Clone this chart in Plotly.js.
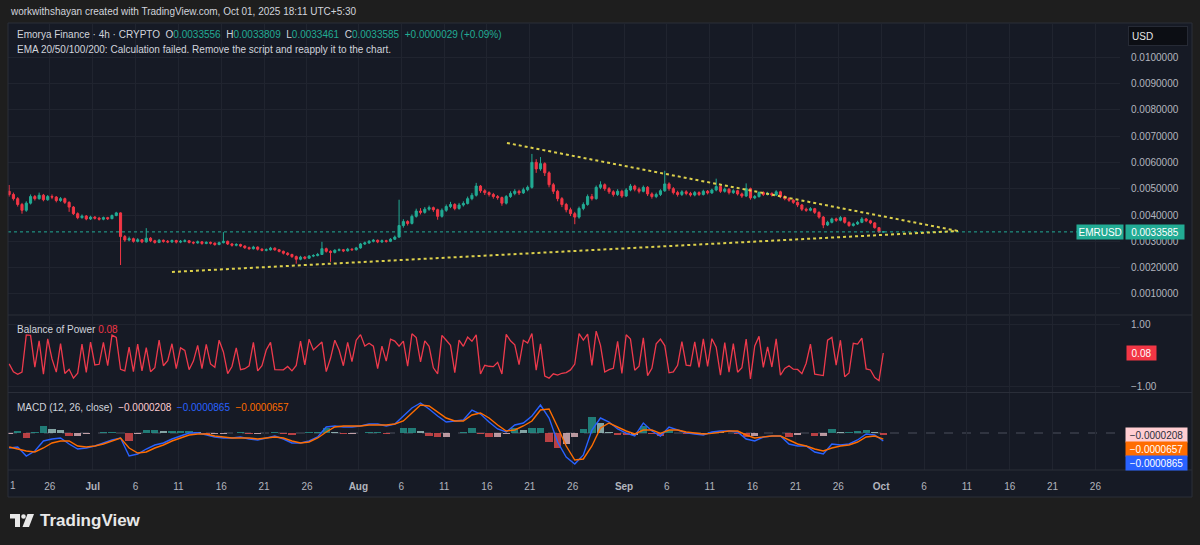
<!DOCTYPE html>
<html>
<head>
<meta charset="utf-8">
<script src="https://cdn.plot.ly/plotly-3.0.1.min.js"></script>
<style>
  html, body { margin: 0; padding: 0; background: #1e1e1e; }
  #chart { width: 1200px; height: 545px; }
</style>
</head>
<body>
<div id="chart"></div>
<script>
// EMRUSD, 12h candles from 21 Jun 2025 06:00 to 1 Oct 2025 06:00 (prices in USD)
const opens = [
  0.00490, 0.00478, 0.00462, 0.00440, 0.00418, 0.00445, 0.00470, 0.00462, 0.00475, 0.00458,
  0.00470, 0.00468, 0.00455, 0.00462, 0.00448, 0.00430, 0.00405, 0.00390, 0.00396, 0.00385,
  0.00392, 0.00388, 0.00384, 0.00390, 0.00386, 0.00398, 0.00408, 0.00318, 0.00305, 0.00310,
  0.00300, 0.00306, 0.00298, 0.00312, 0.00302, 0.00296, 0.00304, 0.00300, 0.00298, 0.00303,
  0.00297, 0.00300, 0.00302, 0.00296, 0.00294, 0.00298, 0.00292, 0.00296, 0.00293, 0.00288,
  0.00295, 0.00300, 0.00290, 0.00285, 0.00288, 0.00282, 0.00276, 0.00272, 0.00278, 0.00270,
  0.00266, 0.00268, 0.00274, 0.00268, 0.00262, 0.00255, 0.00250, 0.00242, 0.00232, 0.00240,
  0.00236, 0.00244, 0.00246, 0.00250, 0.00272, 0.00262, 0.00258, 0.00266, 0.00268, 0.00264,
  0.00270, 0.00268, 0.00275, 0.00290, 0.00294, 0.00300, 0.00304, 0.00298, 0.00302, 0.00300,
  0.00308, 0.00316, 0.00360, 0.00375, 0.00368, 0.00395, 0.00415, 0.00410, 0.00422, 0.00428,
  0.00420, 0.00395, 0.00418, 0.00432, 0.00440, 0.00425, 0.00438, 0.00444, 0.00462, 0.00475,
  0.00510, 0.00492, 0.00485, 0.00478, 0.00470, 0.00466, 0.00445, 0.00470, 0.00482, 0.00490,
  0.00484, 0.00496, 0.00505, 0.00600, 0.00575, 0.00595, 0.00560, 0.00515, 0.00490, 0.00462,
  0.00440, 0.00420, 0.00405, 0.00392, 0.00425, 0.00440, 0.00470, 0.00462, 0.00505, 0.00515,
  0.00500, 0.00488, 0.00478, 0.00490, 0.00472, 0.00495, 0.00510, 0.00498, 0.00490, 0.00505,
  0.00480, 0.00470, 0.00478, 0.00492, 0.00518, 0.00500, 0.00485, 0.00478, 0.00488, 0.00482,
  0.00476, 0.00485, 0.00478, 0.00490, 0.00484, 0.00495, 0.00508, 0.00490, 0.00498, 0.00485,
  0.00492, 0.00480, 0.00472, 0.00500, 0.00465, 0.00470, 0.00485, 0.00478, 0.00482, 0.00476,
  0.00488, 0.00470, 0.00462, 0.00456, 0.00448, 0.00438, 0.00422, 0.00418, 0.00424, 0.00410,
  0.00392, 0.00362, 0.00372, 0.00385, 0.00380, 0.00390, 0.00372, 0.00360, 0.00366, 0.00372,
  0.00385, 0.00378, 0.00370, 0.00352, 0.0033556
];
const highs = [
  0.00514, 0.00485, 0.00468, 0.00446, 0.00452, 0.00478, 0.00476, 0.00485, 0.00480, 0.00476,
  0.00478, 0.00472, 0.00468, 0.00466, 0.00452, 0.00434, 0.00410, 0.00402, 0.00400, 0.00397,
  0.00396, 0.00393, 0.00394, 0.00393, 0.00402, 0.00412, 0.00410, 0.00324, 0.00318, 0.00314,
  0.00312, 0.00309, 0.00350, 0.00316, 0.00306, 0.00309, 0.00307, 0.00305, 0.00307, 0.00306,
  0.00305, 0.00308, 0.00305, 0.00300, 0.00303, 0.00301, 0.00300, 0.00299, 0.00296, 0.00299,
  0.00335, 0.00303, 0.00294, 0.00293, 0.00291, 0.00285, 0.00280, 0.00283, 0.00281, 0.00274,
  0.00273, 0.00279, 0.00277, 0.00271, 0.00265, 0.00259, 0.00253, 0.00246, 0.00245, 0.00244,
  0.00248, 0.00251, 0.00256, 0.00298, 0.00276, 0.00266, 0.00270, 0.00273, 0.00271, 0.00275,
  0.00274, 0.00279, 0.00294, 0.00299, 0.00305, 0.00309, 0.00307, 0.00307, 0.00306, 0.00312,
  0.00322, 0.00458, 0.00384, 0.00380, 0.00402, 0.00424, 0.00426, 0.00430, 0.00436, 0.00432,
  0.00424, 0.00425, 0.00440, 0.00450, 0.00445, 0.00446, 0.00452, 0.00470, 0.00484, 0.00522,
  0.00514, 0.00498, 0.00490, 0.00484, 0.00476, 0.00470, 0.00476, 0.00490, 0.00498, 0.00496,
  0.00504, 0.00512, 0.00632, 0.00612, 0.00620, 0.00600, 0.00566, 0.00522, 0.00496, 0.00468,
  0.00446, 0.00428, 0.00412, 0.00432, 0.00448, 0.00478, 0.00480, 0.00512, 0.00528, 0.00520,
  0.00506, 0.00494, 0.00498, 0.00496, 0.00502, 0.00518, 0.00515, 0.00505, 0.00512, 0.00510,
  0.00486, 0.00485, 0.00498, 0.00568, 0.00524, 0.00506, 0.00492, 0.00494, 0.00494, 0.00488,
  0.00491, 0.00490, 0.00496, 0.00495, 0.00500, 0.00538, 0.00512, 0.00504, 0.00502, 0.00498,
  0.00496, 0.00485, 0.00520, 0.00504, 0.00476, 0.00490, 0.00490, 0.00488, 0.00486, 0.00494,
  0.00492, 0.00475, 0.00468, 0.00460, 0.00452, 0.00442, 0.00428, 0.00430, 0.00427, 0.00414,
  0.00396, 0.00378, 0.00390, 0.00390, 0.00396, 0.00393, 0.00376, 0.00371, 0.00378, 0.00392,
  0.00389, 0.00382, 0.00373, 0.00354, 0.0033809
];
const lows = [
  0.00470, 0.00455, 0.00432, 0.00405, 0.00412, 0.00440, 0.00455, 0.00458, 0.00452, 0.00454,
  0.00460, 0.00448, 0.00450, 0.00442, 0.00412, 0.00400, 0.00384, 0.00386, 0.00380, 0.00381,
  0.00383, 0.00379, 0.00380, 0.00381, 0.00384, 0.00395, 0.00210, 0.00298, 0.00300, 0.00295,
  0.00296, 0.00293, 0.00295, 0.00297, 0.00291, 0.00293, 0.00295, 0.00293, 0.00294, 0.00292,
  0.00293, 0.00296, 0.00292, 0.00289, 0.00291, 0.00287, 0.00289, 0.00288, 0.00283, 0.00285,
  0.00292, 0.00286, 0.00280, 0.00281, 0.00278, 0.00271, 0.00268, 0.00269, 0.00265, 0.00262,
  0.00262, 0.00265, 0.00264, 0.00258, 0.00250, 0.00245, 0.00237, 0.00215, 0.00228, 0.00231,
  0.00233, 0.00240, 0.00243, 0.00248, 0.00257, 0.00222, 0.00254, 0.00262, 0.00259, 0.00261,
  0.00264, 0.00265, 0.00272, 0.00286, 0.00290, 0.00296, 0.00293, 0.00294, 0.00295, 0.00297,
  0.00305, 0.00314, 0.00352, 0.00360, 0.00364, 0.00390, 0.00402, 0.00405, 0.00416, 0.00412,
  0.00382, 0.00390, 0.00412, 0.00426, 0.00418, 0.00420, 0.00432, 0.00440, 0.00456, 0.00470,
  0.00484, 0.00476, 0.00470, 0.00462, 0.00458, 0.00435, 0.00440, 0.00465, 0.00475, 0.00476,
  0.00480, 0.00490, 0.00500, 0.00560, 0.00568, 0.00548, 0.00505, 0.00480, 0.00452, 0.00430,
  0.00410, 0.00396, 0.00365, 0.00386, 0.00418, 0.00435, 0.00455, 0.00458, 0.00498, 0.00492,
  0.00480, 0.00470, 0.00472, 0.00465, 0.00468, 0.00490, 0.00490, 0.00482, 0.00486, 0.00472,
  0.00462, 0.00464, 0.00472, 0.00488, 0.00492, 0.00478, 0.00470, 0.00472, 0.00475, 0.00470,
  0.00471, 0.00472, 0.00474, 0.00478, 0.00480, 0.00490, 0.00484, 0.00485, 0.00478, 0.00480,
  0.00474, 0.00465, 0.00468, 0.00458, 0.00460, 0.00466, 0.00472, 0.00474, 0.00470, 0.00472,
  0.00464, 0.00456, 0.00450, 0.00442, 0.00430, 0.00415, 0.00412, 0.00414, 0.00404, 0.00386,
  0.00350, 0.00358, 0.00368, 0.00374, 0.00376, 0.00367, 0.00355, 0.00356, 0.00362, 0.00369,
  0.00373, 0.00365, 0.00348, 0.00334, 0.0033461
];
const closes = [
  0.00478, 0.00462, 0.00440, 0.00418, 0.00445, 0.00470, 0.00462, 0.00475, 0.00458, 0.00470,
  0.00468, 0.00455, 0.00462, 0.00448, 0.00430, 0.00405, 0.00390, 0.00396, 0.00385, 0.00392,
  0.00388, 0.00384, 0.00390, 0.00386, 0.00398, 0.00408, 0.00318, 0.00305, 0.00310, 0.00300,
  0.00306, 0.00298, 0.00312, 0.00302, 0.00296, 0.00304, 0.00300, 0.00298, 0.00303, 0.00297,
  0.00300, 0.00302, 0.00296, 0.00294, 0.00298, 0.00292, 0.00296, 0.00293, 0.00288, 0.00295,
  0.00300, 0.00290, 0.00285, 0.00288, 0.00282, 0.00276, 0.00272, 0.00278, 0.00270, 0.00266,
  0.00268, 0.00274, 0.00268, 0.00262, 0.00255, 0.00250, 0.00242, 0.00232, 0.00240, 0.00236,
  0.00244, 0.00246, 0.00250, 0.00272, 0.00262, 0.00258, 0.00266, 0.00268, 0.00264, 0.00270,
  0.00268, 0.00275, 0.00290, 0.00294, 0.00300, 0.00304, 0.00298, 0.00302, 0.00300, 0.00308,
  0.00316, 0.00360, 0.00375, 0.00368, 0.00395, 0.00415, 0.00410, 0.00422, 0.00428, 0.00420,
  0.00395, 0.00418, 0.00432, 0.00440, 0.00425, 0.00438, 0.00444, 0.00462, 0.00475, 0.00510,
  0.00492, 0.00485, 0.00478, 0.00470, 0.00466, 0.00445, 0.00470, 0.00482, 0.00490, 0.00484,
  0.00496, 0.00505, 0.00600, 0.00575, 0.00595, 0.00560, 0.00515, 0.00490, 0.00462, 0.00440,
  0.00420, 0.00405, 0.00392, 0.00425, 0.00440, 0.00470, 0.00462, 0.00505, 0.00515, 0.00500,
  0.00488, 0.00478, 0.00490, 0.00472, 0.00495, 0.00510, 0.00498, 0.00490, 0.00505, 0.00480,
  0.00470, 0.00478, 0.00492, 0.00518, 0.00500, 0.00485, 0.00478, 0.00488, 0.00482, 0.00476,
  0.00485, 0.00478, 0.00490, 0.00484, 0.00495, 0.00508, 0.00490, 0.00498, 0.00485, 0.00492,
  0.00480, 0.00472, 0.00500, 0.00465, 0.00470, 0.00485, 0.00478, 0.00482, 0.00476, 0.00488,
  0.00470, 0.00462, 0.00456, 0.00448, 0.00438, 0.00422, 0.00418, 0.00424, 0.00410, 0.00392,
  0.00362, 0.00372, 0.00385, 0.00380, 0.00390, 0.00372, 0.00360, 0.00366, 0.00372, 0.00385,
  0.00378, 0.00370, 0.00352, 0.0033556, 0.0033585
];

// MACD (12, 26, close), one sample per day, in units of 1e-7 USD
const macdLine = [
  -1620, -1512, -2484, -1944, -864, -648, -540, -1188, -1728, -1620,
  -1404, -1080, -756, -540, -2484, -2268, -1728, -1296, -1080, -648,
  -324, 0, 20, -216, -432, -540, -540, -432, -648, -756,
  -540, -324, -648, -1080, -1080, -864, -432, 648, 756, 648,
  648, 756, 972, 972, 756, 972, 1836, 2700, 3240, 2592,
  1836, 1188, 1296, 1404, 2484, 2052, 1188, 432, 108, 864,
  1080, 1836, 3024, 1620, -972, -2592, -3348, -2376, 324, 1620,
  1188, 432, -20, -324, 1080, 216, -324, 648, 324, 30,
  -108, -216, 108, 216, 216, 108, -648, -864, -432, -324,
  -324, -1188, -1404, -1404, -2052, -2268, -1188, -1296, -1188, -756,
  -108, -216, -865
];
const signalLine = [
  -1512, -1728, -1944, -2052, -1620, -1080, -864, -864, -1404, -1512,
  -1404, -1188, -864, -540, -1620, -2160, -2052, -1620, -1296, -864,
  -540, -216, -108, -108, -324, -432, -540, -540, -540, -648,
  -540, -432, -540, -864, -1080, -972, -540, 108, 648, 756,
  756, 756, 864, 864, 864, 972, 1296, 2160, 3024, 2916,
  2268, 1620, 1296, 1296, 1944, 2160, 1620, 864, 216, 324,
  756, 1296, 2484, 2592, 648, -1404, -2916, -2808, -1404, 540,
  1080, 648, 216, -108, 324, 324, -30, 324, 324, 108,
  10, -108, -40, 108, 216, 216, -216, -540, -432, -324,
  -324, -756, -1188, -1404, -1728, -1944, -1620, -1404, -1296, -972,
  -432, -324, -657
];

// Triangle trend lines drawn on the price pane
const trendUpperX = ['2025-08-18 08:10', '2025-10-09 23:17'];
const trendUpperY = [0.006735, 0.003393];
const trendLowerX = ['2025-07-10 06:00', '2025-10-09 23:17'];
const trendLowerY = [0.001836, 0.003393];

// Time axis labels
const tickDates = ['2025-06-26','2025-07-01','2025-07-06','2025-07-11','2025-07-16','2025-07-21','2025-07-26',
  '2025-08-01','2025-08-06','2025-08-11','2025-08-16','2025-08-21','2025-08-26',
  '2025-09-01','2025-09-06','2025-09-11','2025-09-16','2025-09-21','2025-09-26',
  '2025-10-01','2025-10-06','2025-10-11','2025-10-16','2025-10-21','2025-10-26'];
const tickLabels = ['26','<b>Jul</b>','6','11','16','21','26','<b>Aug</b>','6','11','16','21','26',
  '<b>Sep</b>','6','11','16','21','26','<b>Oct</b>','6','11','16','21','26'];
const priceTicks = [0.001, 0.002, 0.003, 0.004, 0.005, 0.006, 0.007, 0.008, 0.009, 0.010];

// ---------------------------------------------------------------------------
const UP = '#22ab94', DOWN = '#f23645';
const BLUE = '#2962ff', ORANGE = '#ff6d00', PINK = '#ffcdd2';
const TEXT = '#d1d4dc', AXIS_TEXT = '#b2b5be';
const PANEL = '#161a25', GRID = '#20242f', BORDER = '#2a2e39';
const FONT = 'Liberation Sans, Arial, sans-serif';

const stamp = ms => new Date(ms).toISOString().slice(0, 16).replace('T', ' ');
const t0 = Date.UTC(2025, 5, 21, 6);
const candleTimes = closes.map((_, i) => stamp(t0 + i * 12 * 3600e3));
const macdTimes = macdLine.map((_, d) => stamp(t0 + d * 24 * 3600e3));

// Balance of Power = (close - open) / (high - low)
const bop = closes.map((c, i) => (c - opens[i]) / (highs[i] - lows[i]));
const hist = macdLine.map((m, i) => m - signalLine[i]);
const histColors = hist.map((h, i) => {
  const prev = i ? hist[i - 1] : h;
  if (h >= 0) return h >= prev ? '#26a69a' : '#b2dfdb';
  return h < prev ? '#ff5252' : '#ffcdd2';
});

const n = closes.length;
const lastO = opens[n - 1], lastH = highs[n - 1], lastL = lows[n - 1], lastC = closes[n - 1];
const chg = lastC - lastO;
const fmt7 = v => (v < 0 ? '\u2212' : '') + Math.abs(v).toFixed(7);
const sgn7 = v => (v < 0 ? '\u2212' : '+') + Math.abs(v).toFixed(7);
const lastBop = bop[n - 1];
const lastHist = hist[hist.length - 1] * 1e-7;
const lastMacd = macdLine[macdLine.length - 1] * 1e-7;
const lastSignal = signalLine[signalLine.length - 1] * 1e-7;

// pixel -> paper helpers (plot area spans x 8..1120, y 24..470)
const px = x => (x - 8) / 1112;
const py = y => (470 - y) / 446;

const xStart = '2025-06-21 02:48', xEnd = '2025-10-28 20:53';

const traces = [
  {
    type: 'candlestick', x: candleTimes, open: opens, high: highs, low: lows, close: closes,
    xaxis: 'x', yaxis: 'y', whiskerwidth: 0,
    increasing: { line: { color: UP, width: 1 }, fillcolor: UP },
    decreasing: { line: { color: DOWN, width: 1 }, fillcolor: DOWN },
    hoverinfo: 'skip'
  },
  {
    type: 'scatter', mode: 'lines', x: [xStart, xEnd], y: [lastC, lastC],
    line: { color: UP, width: 1, dash: 'dot' }, xaxis: 'x', yaxis: 'y', hoverinfo: 'skip'
  },
  {
    type: 'scatter', mode: 'lines', x: trendUpperX, y: trendUpperY,
    line: { color: '#dcd04b', width: 2, dash: 'dot' }, xaxis: 'x', yaxis: 'y', hoverinfo: 'skip'
  },
  {
    type: 'scatter', mode: 'lines', x: trendLowerX, y: trendLowerY,
    line: { color: '#dcd04b', width: 2, dash: 'dot' }, xaxis: 'x', yaxis: 'y', hoverinfo: 'skip'
  },
  {
    type: 'scatter', mode: 'lines', x: candleTimes, y: bop,
    line: { color: '#ee3a4c', width: 1.3 }, xaxis: 'x', yaxis: 'y2', hoverinfo: 'skip'
  },
  {
    type: 'bar', x: macdTimes, y: hist, width: 0.85 * 86400e3,
    marker: { color: histColors, line: { width: 0 } }, opacity: 0.7,
    xaxis: 'x', yaxis: 'y3', hoverinfo: 'skip'
  },
  {
    type: 'scatter', mode: 'lines', x: macdTimes, y: macdLine,
    line: { color: BLUE, width: 1.4 }, xaxis: 'x', yaxis: 'y3', hoverinfo: 'skip'
  },
  {
    type: 'scatter', mode: 'lines', x: macdTimes, y: signalLine,
    line: { color: ORANGE, width: 1.4 }, xaxis: 'x', yaxis: 'y3', hoverinfo: 'skip'
  }
];

const txt = (x, y, text, size, color, extra) => Object.assign({
  xref: 'paper', yref: 'paper', x: px(x), y: py(y), text: text, showarrow: false,
  xanchor: 'left', yanchor: 'middle', font: { family: FONT, size: size, color: color }
}, extra || {});

const g = s => '<span style="color:' + UP + '">' + s + '</span>';
const sp = '\u00a0 ';
const line1 = 'Emorya Finance \u00b7 4h \u00b7 CRYPTO' + sp +
  'O' + g(lastO.toFixed(7)) + sp + 'H' + g(lastH.toFixed(7)) + sp +
  'L' + g(lastL.toFixed(7)) + sp + 'C' + g(lastC.toFixed(7)) + sp +
  g(sgn7(chg) + ' (' + (chg >= 0 ? '+' : '\u2212') + Math.abs(chg / lastO * 100).toFixed(2) + '%)');

const annotations = [
  txt(8, 12, 'workwithshayan created with TradingView.com, Oct 01, 2025 18:11 UTC+5:30', 10, TEXT),
  txt(15, 35, line1, 10, TEXT),
  txt(15, 49, 'EMA 20/50/100/200: Calculation failed. Remove the script and reapply it to the chart.', 10, TEXT),
  txt(15, 329, 'Balance of Power ' + '<span style="color:' + DOWN + '">' + lastBop.toFixed(2) + '</span>', 10, TEXT),
  txt(15, 407, 'MACD (12, 26, close)' + sp +
    '<span style="color:' + PINK + '">' + fmt7(lastHist) + '</span>' + sp +
    '<span style="color:' + BLUE + '">' + fmt7(lastMacd) + '</span>' + sp +
    '<span style="color:' + ORANGE + '">' + fmt7(lastSignal) + '</span>', 10, TEXT),
  // clipped first date label at the left frame edge
  txt(8, 485, '1', 10, AXIS_TEXT),
  // currency badge
  txt(1128, 36, 'USD', 10, '#e6e6e6', { bgcolor: '#0c0e14', bordercolor: '#262a35', borderwidth: 1, borderpad: 3, width: 52, height: 12, align: 'left' }),
  // last price labels
  { xref: 'paper', yref: 'y', x: 1, y: lastC, xanchor: 'left', yanchor: 'middle', xshift: 5,
    text: lastC.toFixed(7), showarrow: false, bgcolor: UP, borderpad: 1.5, width: 55,
    font: { family: FONT, size: 10, color: '#ffffff' } },
  { xref: 'paper', yref: 'y', x: 1, y: lastC, xanchor: 'right', yanchor: 'middle', xshift: 4,
    text: 'EMRUSD', showarrow: false, bgcolor: UP, borderpad: 1.5,
    font: { family: FONT, size: 10, color: '#ffffff' } },
  { xref: 'paper', yref: 'y2', x: 1, y: lastBop, xanchor: 'left', yanchor: 'middle', xshift: 6,
    text: lastBop.toFixed(2), showarrow: false, bgcolor: DOWN, borderpad: 1.5, width: 26,
    font: { family: FONT, size: 10, color: '#ffffff' } },
  // MACD value labels, stacked below the histogram value
  { xref: 'paper', yref: 'y3', x: 1, y: hist[hist.length - 1], xanchor: 'left', yanchor: 'middle', xshift: 5,
    text: fmt7(lastHist), showarrow: false, bgcolor: PINK, borderpad: 1.5, width: 58,
    font: { family: FONT, size: 10, color: '#2a2e39' } },
  { xref: 'paper', yref: 'y3', x: 1, y: hist[hist.length - 1], xanchor: 'left', yanchor: 'middle', xshift: 5, yshift: -14,
    text: fmt7(lastSignal), showarrow: false, bgcolor: ORANGE, borderpad: 1.5, width: 58,
    font: { family: FONT, size: 10, color: '#ffffff' } },
  { xref: 'paper', yref: 'y3', x: 1, y: hist[hist.length - 1], xanchor: 'left', yanchor: 'middle', xshift: 5, yshift: -28,
    text: fmt7(lastMacd), showarrow: false, bgcolor: BLUE, borderpad: 1.5, width: 58,
    font: { family: FONT, size: 10, color: '#ffffff' } },
  // brand mark
  txt(38, 520, '<b>TradingView</b>', 17, '#e8e8e8')
];

const hline = (y, color) => ({ type: 'line', xref: 'paper', yref: 'paper', x0: px(8), x1: px(1192), y0: py(y), y1: py(y),
  line: { color: color, width: 1 }, layer: 'above' });

const shapes = [
  { type: 'rect', xref: 'paper', yref: 'paper', x0: px(8), x1: px(1192), y0: py(497), y1: py(23),
    fillcolor: PANEL, line: { width: 0 }, layer: 'below' },
  hline(315, BORDER), hline(392.5, BORDER), hline(470, BORDER),
  { type: 'rect', xref: 'paper', yref: 'paper', x0: px(8), x1: px(1192), y0: py(497), y1: py(23),
    fillcolor: 'rgba(0,0,0,0)', line: { color: BORDER, width: 1 }, layer: 'above' },
  { type: 'line', xref: 'paper', yref: 'y3', x0: 0, x1: 1, y0: 0, y1: 0,
    line: { color: '#4a4f5c', width: 1, dash: 'dash' }, layer: 'below' },
  // logo glyphs
  { type: 'rect', xref: 'paper', yref: 'paper', x0: px(10), x1: px(20), y0: py(518.5), y1: py(514),
    fillcolor: '#e8e8e8', line: { width: 0 } },
  { type: 'rect', xref: 'paper', yref: 'paper', x0: px(15), x1: px(20), y0: py(527), y1: py(514),
    fillcolor: '#e8e8e8', line: { width: 0 } },
  { type: 'circle', xref: 'paper', yref: 'paper', x0: px(21.2), x1: px(25.8), y0: py(518.8), y1: py(514.2),
    fillcolor: '#e8e8e8', line: { width: 0 } },
  { type: 'path', xref: 'paper', yref: 'paper',
    path: 'M' + px(27.5) + ',' + py(514) + ' L' + px(34) + ',' + py(514) + ' L' + px(29) + ',' + py(527) +
          ' L' + px(22.5) + ',' + py(527) + ' Z',
    fillcolor: '#e8e8e8', line: { width: 0 } }
];

const layout = {
  width: 1200, height: 545,
  paper_bgcolor: '#1e1e1e', plot_bgcolor: PANEL,
  margin: { l: 8, r: 80, t: 24, b: 75, pad: 0 },
  showlegend: false, dragmode: false, hovermode: false,
  font: { family: FONT, size: 10, color: AXIS_TEXT },
  bargap: 0,
  xaxis: {
    type: 'date', range: [xStart, xEnd], anchor: 'y3',
    tickvals: tickDates, ticktext: tickLabels, ticks: '', ticklabelstandoff: 9,
    tickfont: { family: FONT, size: 10, color: AXIS_TEXT },
    showgrid: true, gridcolor: GRID, gridwidth: 1, zeroline: false, showline: false,
    rangeslider: { visible: false }, fixedrange: true
  },
  yaxis: {
    domain: [py(314), 1], range: [0.00024, 0.011254], side: 'right',
    tickvals: priceTicks, tickformat: '.7f', ticks: '', ticklabelstandoff: 10,
    tickfont: { family: FONT, size: 10, color: AXIS_TEXT },
    showgrid: true, gridcolor: GRID, zeroline: false, showline: false, fixedrange: true
  },
  yaxis2: {
    domain: [py(392), py(316)], range: [-1.19, 1.29], side: 'right',
    tickvals: [-1, 1], tickformat: '.2f', ticks: '', ticklabelstandoff: 10,
    tickfont: { family: FONT, size: 10, color: AXIS_TEXT },
    showgrid: true, gridcolor: GRID, zeroline: false, showline: false, fixedrange: true
  },
  yaxis3: {
    domain: [0, py(393)], range: [-3996, 4320], side: 'right',
    showticklabels: false, ticks: '', showgrid: false, zeroline: false, showline: false, fixedrange: true
  },
  shapes: shapes,
  annotations: annotations
};

Plotly.newPlot('chart', traces, layout, { staticPlot: true, displayModeBar: false });
</script>
</body>
</html>
